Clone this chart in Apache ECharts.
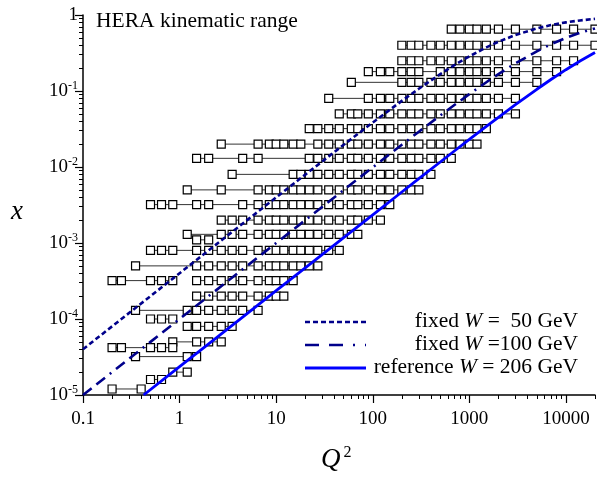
<!DOCTYPE html>
<html>
<head>
<meta charset="utf-8">
<script src="https://cdn.jsdelivr.net/npm/echarts@6/dist/echarts.min.js"></script>
<style>html,body{margin:0;padding:0;background:#fff}#c{width:597px;height:480px}</style>
</head>
<body>
<div id="c"></div>
<script>
// x value of each row of measured bins
const xRows = [0.65, 0.4, 0.25, 0.18, 0.13, 0.08, 0.05, 0.032, 0.02, 0.013, 0.008, 0.005, 0.0032, 0.002, 0.0013, 0.0011, 0.0008, 0.0005, 0.00032, 0.0002, 0.00013, 0.0001, 0.00008, 0.00005, 0.000042, 0.000032, 0.00002, 0.000016, 0.000012];
// Q^2 values of the bins in each row (null = break in the connecting line)
const q2Rows = [
  [650, 800, 1000, 1200, 1500, 2000, 3000, 5000, 8000, 12000, 20000],
  [200, 250, 300, 400, 500, 650, 800, 1000, 1200, 1500, 2000, 3000, 5000, 8000, 12000, 20000],
  [200, 250, 300, 400, 500, 650, 800, 1000, 1200, 1500, 2000, 3000, 5000, 8000, 12000],
  [90, 120, 150, 200, 250, 300, 500, 650, 800, 1000, 1200, 1500, 2000, 3000, 5000, 8000],
  [60, 200, 250, 300, 400, 500, 650, 800, 1000, 1200, 1500, 2000, 3000, 5000],
  [35, 90, 120, 150, 200, 250, 300, 400, 500, 650, 800, 1000, 1200, 1500, 2000, 3000],
  [45, 60, 70, 90, 120, 150, 200, 250, 300, 400, 500, 650, 800, 1000, 1200, 1500, 2000, 3000],
  [22, 27, 35, 45, 60, 70, 90, 120, 150, 200, 250, 300, 400, 500, 650, 800, 1000, 1200, 1500],
  [2.7, 6.5, 8.5, 10, 12, 15, 18, 27, 35, 45, 60, 70, 90, 120, 150, 200, 250, 300, 400, 500, 650, 800, 1000, 1200],
  [1.5, 2, 4.5, 6.5, 22, 27, 35, 45, 60, 70, 90, 120, 150, 200, 250, 300, 400, 500, 650],
  [3.5, 15, 18, 22, 27, 35, 45, 60, 70, 90, 120, 150, 200, 250, 300, 400],
  [1.2, 2.7, 6.5, 8.5, 10, 12, 15, 18, 22, 27, 35, 45, 60, 70, 90, 120, 150, 200, 250, 300],
  [0.5, 0.65, 0.85, 1.5, 2, 4.5, 6.5, 8.5, 10, 12, 15, 18, 22, 27, 35, 45, 60, 70, 90, 120, 150],
  [2.7, 3.5, 4.5, 6.5, 8.5, 10, 12, 15, 18, 22, 27, 35, 45, 60, 70, 90, 120],
  [1.2, 2.7, 3.5, 4.5, 6.5, 8.5, 10, 12, 15, 18, 22, 27, 35, 45, 60, 70],
  [1.5, 2],
  [0.5, 0.65, 0.85, 1.5, 2, 2.7, 3.5, 4.5, 6.5, 8.5, 10, 12, 15, 18, 22, 27, 35, 45],
  [0.35, 1.5, 2, 2.7, 3.5, 4.5, 6.5, 8.5, 10, 12, 15, 18, 22, 27],
  [0.2, 0.25, 0.5, 0.65, 0.85, null, 1.5, 2, 2.7, 3.5, 4.5, 6.5, 8.5, 10, 12, 15],
  [1.5, 2, 2.7, 3.5, 4.5, 6.5, 8.5, 10, 12],
  [0.35, 1.2, 1.5, 2, 2.7, 3.5, 4.5, 6.5],
  [0.5, 0.65, 0.85],
  [1.2, 1.5, 2, 2.7, 3.5],
  [0.85, 1.5, 2, 2.7],
  [0.2, 0.25, 0.5, 0.65, 0.85],
  [0.35, 1.2, 1.5],
  [0.85, 1.2],
  [0.5, 0.65],
  [0.2, 0.4]
];
// curves
const curveQ2 = [0.1, 0.2, 0.5, 1, 2, 5, 10, 20, 50, 100, 200, 300, 500, 700, 1000, 1500, 2000, 3000, 5000, 7000, 10000, 14000, 20000];
const xW50 = [4.0e-5, 8.0e-5, 2.0e-4, 4.0e-4, 8.0e-4, 2.0e-3, 3.98e-3, 7.94e-3, 0.0196, 0.0385, 0.0741, 0.1071, 0.1667, 0.2188, 0.2857, 0.375, 0.4444, 0.5455, 0.6667, 0.7368, 0.8, 0.8485, 0.8889];
const xW100 = [1.0e-5, 2.0e-5, 5.0e-5, 1.0e-4, 2.0e-4, 5.0e-4, 9.99e-4, 2.0e-3, 4.98e-3, 9.9e-3, 0.0196, 0.0291, 0.0476, 0.0654, 0.0909, 0.1304, 0.1667, 0.2308, 0.3333, 0.4118, 0.5, 0.5833, 0.6667];
const refQ2 = [0.4244, 1, 2, 5, 10, 20, 50, 100, 200, 300, 500, 700, 1000, 1500, 2000, 3000, 5000, 7000, 10000, 14000, 20000];
const xW206 = [1.0e-5, 2.36e-5, 4.71e-5, 1.18e-4, 2.36e-4, 4.71e-4, 1.18e-3, 2.35e-3, 4.69e-3, 7.02e-3, 0.01164, 0.01623, 0.02302, 0.03414, 0.045, 0.06603, 0.1054, 0.1416, 0.1907, 0.2481, 0.3203];
// tick labels
const xTicks = [0.1, 1, 10, 100, 1000, 10000];
const xTickLabels = ['0.1', '1', '10', '100', '1000', '10000'];
const yTicks = [1e-5, 1e-4, 1e-3, 1e-2, 1e-1, 1];
const yTickLabels = ['10{s|-5}', '10{s|-4}', '10{s|-3}', '10{s|-2}', '10{s|-1}', '1'];

const FONT = 'Liberation Serif';
function minorVals(lo, hi) {
  const out = [];
  for (let e = lo; e < hi; e++) for (let m = 2; m <= 9; m++) out.push(m * Math.pow(10, e));
  return out;
}
const xMinor = minorVals(-1, 5).filter(v => v <= 20000);
const yMinor = minorVals(-5, 0);

const series = [];
xRows.forEach((xv, i) => {
  const data = q2Rows[i].map(q => q === null ? ['-', '-'] : [q, xv]);
  series.push({
    type: 'line', xAxisIndex: 0, yAxisIndex: 0, data: data,
    symbol: 'rect', symbolSize: 8, showSymbol: true, connectNulls: false,
    lineStyle: { color: '#333', width: 1 },
    itemStyle: { color: '#fff', borderColor: '#000', borderWidth: 1.2 },
    silent: true, animation: false, z: 2
  });
});
series.push({ type: 'line', data: curveQ2.map((q, i) => [q, xW50[i]]), symbol: 'none', smooth: false,
  lineStyle: { color: '#00008B', width: 2.6, type: [5, 3] }, z: 5, animation: false });
series.push({ type: 'line', data: curveQ2.map((q, i) => [q, xW100[i]]), symbol: 'none',
  lineStyle: { color: '#00008B', width: 2.6, type: [11, 6, 11, 6, 2, 6] }, z: 5, animation: false });
series.push({ type: 'line', data: refQ2.map((q, i) => [q, xW206[i]]), symbol: 'none',
  lineStyle: { color: '#0000FF', width: 2.8 }, z: 6, animation: false });

const chart = echarts.init(document.getElementById('c'), null, { renderer: 'canvas' });
const gridL = 83, gridT = 15, gridR = 2, gridB = 85;
const rich = { i: { fontFamily: FONT, fontSize: 21.5, fontStyle: 'italic' } };
chart.setOption({
  backgroundColor: '#fff',
  animation: false,
  grid: { left: gridL, top: gridT, right: gridR, bottom: gridB, containLabel: false },
  xAxis: [
    { type: 'log', logBase: 10, min: 0.1, max: 20000, position: 'bottom',
      axisLine: { show: true, lineStyle: { color: '#000', width: 1.5 } },
      axisTick: { show: true, length: 8, lineStyle: { color: '#000', width: 1.2 }, customValues: xTicks },
      axisLabel: { show: true, customValues: xTicks, margin: 15, color: '#000', fontFamily: FONT, fontSize: 19,
        formatter: v => { const k = xTicks.findIndex(t => Math.abs(Math.log10(t) - Math.log10(v)) < 1e-6); return k >= 0 ? xTickLabels[k] : ''; } },
      splitLine: { show: false } },
    { type: 'log', logBase: 10, min: 0.1, max: 20000, position: 'bottom', gridIndex: 0,
      axisLine: { show: false }, axisLabel: { show: false },
      axisTick: { show: true, length: 4, lineStyle: { color: '#000', width: 1 }, customValues: xMinor },
      splitLine: { show: false } }
  ],
  yAxis: [
    { type: 'log', logBase: 10, min: 1e-5, max: 1, position: 'left',
      axisLine: { show: true, lineStyle: { color: '#000', width: 1.5 } },
      axisTick: { show: true, length: 8, lineStyle: { color: '#000', width: 1.2 }, customValues: yTicks },
      axisLabel: { show: true, customValues: yTicks, margin: 5, color: '#000', fontFamily: FONT, fontSize: 19,
        formatter: v => { const k = yTicks.findIndex(t => Math.abs(Math.log10(t) - Math.log10(v)) < 1e-6); return k >= 0 ? yTickLabels[k] : ''; },
        rich: { s: { fontFamily: FONT, fontSize: 12, color: '#000', padding: [0, 0, 10, 0] } } },
      splitLine: { show: false } },
    { type: 'log', logBase: 10, min: 1e-5, max: 1, position: 'left', gridIndex: 0,
      axisLine: { show: false }, axisLabel: { show: false },
      axisTick: { show: true, length: 4, lineStyle: { color: '#000', width: 1 }, customValues: yMinor },
      splitLine: { show: false } }
  ],
  series: series,
  graphic: [
    { type: 'text', left: 96, top: 10, style: { text: 'HERA kinematic range', fontFamily: FONT, fontSize: 21.5, fill: '#000' } },
    { type: 'text', left: 11, top: 198, style: { text: 'x', fontFamily: FONT, fontSize: 27, fontStyle: 'italic', fill: '#000' } },
    { type: 'text', left: 321, top: 445, style: { text: '{q|Q}{s|2}', fontFamily: FONT, fill: '#000',
      rich: { q: { fontFamily: FONT, fontSize: 27, fontStyle: 'italic' }, s: { fontFamily: FONT, fontSize: 16, padding: [0, 0, 14, 3] } } } },
    // legend
    { type: 'line', shape: { x1: 305, y1: 322, x2: 366, y2: 322 }, style: { stroke: '#00008B', lineWidth: 2.6, lineDash: [5, 3] } },
    { type: 'line', shape: { x1: 305, y1: 345, x2: 366, y2: 345 }, style: { stroke: '#00008B', lineWidth: 2.6, lineDash: [14, 10, 14, 10, 2, 10] } },
    { type: 'line', shape: { x1: 305, y1: 368, x2: 366, y2: 368 }, style: { stroke: '#0000FF', lineWidth: 2.8 } },
    { type: 'text', right: 19, top: 310, style: { text: 'fixed {i|W} =  50 GeV', fontFamily: FONT, fontSize: 21.5, fill: '#000', rich: rich } },
    { type: 'text', right: 19, top: 333, style: { text: 'fixed {i|W} =100 GeV', fontFamily: FONT, fontSize: 21.5, fill: '#000', rich: rich } },
    { type: 'text', right: 19, top: 356, style: { text: 'reference {i|W} = 206 GeV', fontFamily: FONT, fontSize: 21.5, fill: '#000', rich: rich } }
  ]
});
</script>
</body>
</html>
